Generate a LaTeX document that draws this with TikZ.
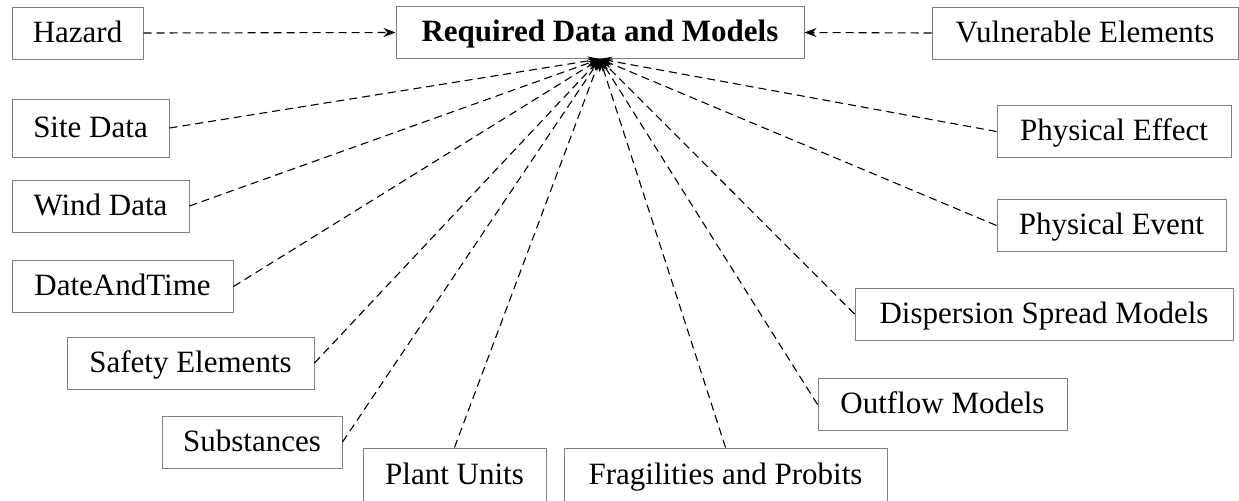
\documentclass[tikz,border=0pt]{standalone}
\usepackage{fontspec}
\setmainfont{Liberation Serif}
\usetikzlibrary{arrows.meta,positioning}

\tikzset{
  box/.style={draw=gray, line width=0.5pt, inner sep=0pt,
    font=\fontsize{15.5}{18}\selectfont, minimum height=26pt,
    text height=12pt, text depth=3pt},
  link/.style={black, line width=0.55pt, dash pattern=on 4pt off 2.5pt,
    -{Stealth[length=6pt,width=4.5pt,inset=2pt]}}
}

\begin{document}
\begin{tikzpicture}[x=0.5pt,y=-0.5pt]
\useasboundingbox (0,0) rectangle (1239,500);

\node[box, minimum width=204pt, font=\fontsize{15.5}{18}\selectfont\bfseries] (req) at (600,32.5) {Required Data and Models};
\node[box, minimum width=65.5pt] (haz) at (77.5,33) {Hazard};
\node[box, minimum width=153pt] (vul) at (1085,33) {Vulnerable Elements};

\node[box, minimum width=78.5pt, minimum height=29pt] (site) at (90.5,128) {Site Data};
\node[box, minimum width=88.5pt] (wind) at (100.5,206) {Wind Data};
\node[box, minimum width=110.5pt] (date) at (122.5,286.5) {DateAndTime};
\node[box, minimum width=123.5pt] (safe) at (190.5,363) {Safety Elements};
\node[box, minimum width=90pt] (subst) at (252,442) {Substances};
\node[box, minimum width=91.5pt, minimum height=27pt] (plant) at (454.5,475) {Plant Units};
\node[box, minimum width=161.5pt, minimum height=27pt] (frag) at (725.5,475) {Fragilities and Probits};

\node[box, minimum width=124.5pt] (outf) at (942.5,404.5) {Outflow Models};
\node[box, minimum width=189pt] (disp) at (1044,314) {Dispersion Spread Models};
\node[box, minimum width=114.5pt] (pevent) at (1111.5,225.5) {Physical Event};
\node[box, minimum width=117pt] (peffect) at (1114,131.5) {Physical Effect};

% inputs of the top row
\draw[link] (haz.east) -- (req.west);
\draw[link] (vul.west) -- (req.east);

% all other inputs meet under the title box
\foreach \src/\anc in {site/east, wind/east, date/east, safe/east, subst/east,
    plant/north, frag/north, outf/west, disp/west, pevent/west, peffect/west}
  \draw[link] (\src.\anc) -- (req.south);
\end{tikzpicture}
\end{document}
